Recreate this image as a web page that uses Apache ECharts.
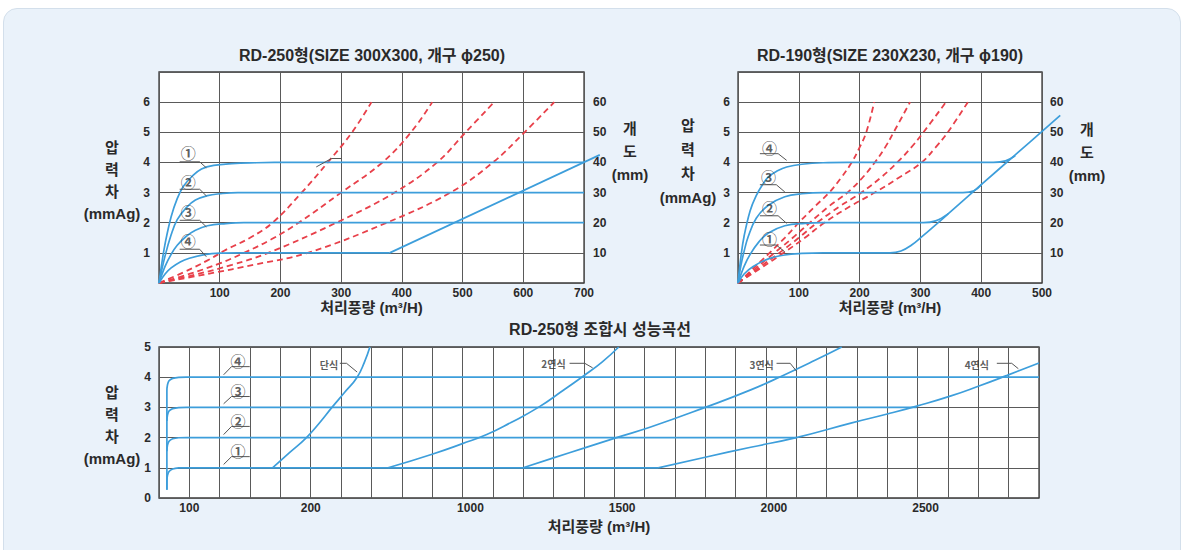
<!DOCTYPE html>
<html><head><meta charset="utf-8">
<script src="https://cdn.jsdelivr.net/npm/echarts@6/dist/echarts.min.js"></script>
<style>
html,body{margin:0;padding:0;background:#fff;width:1184px;height:550px;overflow:hidden}
#panel{position:absolute;left:3px;top:8px;width:1176px;height:560px;background:#eaf2fa;border:1px solid #d3dfeb;border-radius:14px}
#chart{position:absolute;left:0;top:0;width:1184px;height:550px}
</style></head>
<body><div id="panel"></div><div id="chart"></div>
<script>
// ---------- DATA ----------
// Chart A: RD-250 (x: m3/H, y: mmAg)
const aXTickValues = [100,200,300,400,500,600,700];
const aXTickLabels = ['100','200','300','400','500','600','700'];
const aYTickValues = [1,2,3,4,5,6];
const aYTickLabels = ['1','2','3','4','5','6'];
const aRTickValues = [10,20,30,40,50,60];
const aRTickLabels = ['10','20','30','40','50','60'];
const aOpen1 = [[0,0],[5,0.7],[10,1.3],[20,2.2],[30,2.8],[40,3.2],[55,3.55],[70,3.78],[90,3.9],[120,3.96],[160,3.99],[190,4],[700,4]];
const aOpen2 = [[0,0],[10,0.9],[20,1.6],[30,2.1],[45,2.5],[60,2.75],[80,2.9],[100,2.96],[130,3],[700,3]];
const aOpen3 = [[0,0],[10,0.55],[20,0.95],[30,1.25],[45,1.55],[60,1.75],[80,1.9],[110,1.97],[140,2],[700,2]];
const aOpen4 = [[0,0],[10,0.3],[20,0.5],[35,0.7],[50,0.82],[75,0.94],[100,0.99],[130,1],[380,1]];
const aMaxLine = [[380,1],[726,4.25]];
const aDash1 = [[0,0],[40,0.35],[80,0.75],[110,1.1],[150,1.5],[187,2],[235,3],[278,4],[318,5],[350,6]];
const aDash2 = [[0,0],[50,0.3],[100,0.65],[140,1.0],[185,1.45],[230,2],[300,3],[368,4],[415,5],[450,6]];
const aDash3 = [[0,0],[60,0.28],[120,0.6],[180,1.0],[292,2],[388,3],[458,4],[505,5],[552,6]];
const aDash4 = [[0,0],[80,0.3],[160,0.62],[245,1.0],[375,2],[480,3],[550,4],[602,5],[651,6]];
const aMarks = [{t:'①',p:[48,4.32]},{t:'②',p:[48,3.37]},{t:'③',p:[48,2.36]},{t:'④',p:[48,1.40]}];
const aLeaders = [
  [[34,4.02],[67,4.02],[78,3.82]],
  [[34,3.11],[67,3.11],[78,2.89]],
  [[34,2.08],[67,2.08],[78,1.86]],
  [[34,1.12],[67,1.12],[78,0.87]],
  [[259,3.85],[284,4.13],[300,4.13]]
];

// Chart B: RD-190
const bXTickValues = [100,200,300,400,500];
const bXTickLabels = ['100','200','300','400','500'];
const bOpen4 = [[0,0],[5,0.9],[10,1.55],[20,2.4],[30,2.9],[40,3.25],[50,3.52],[65,3.72],[80,3.85],[105,3.94],[140,3.99],[180,4],[420,4],[440,4.05],[456,4.22]];
const bOpen3 = [[0,0],[5,0.6],[10,1.05],[17,1.55],[30,2.15],[50,2.58],[77,2.86],[105,2.96],[140,3],[370,3],[388,3.06],[401,3.28]];
const bOpen2 = [[0,0],[10,0.55],[20,0.95],[35,1.38],[50,1.66],[77,1.9],[110,1.98],[140,2],[305,2],[325,2.06],[346,2.3]];
const bOpen1 = [[0,0],[10,0.3],[25,0.55],[50,0.8],[77,0.93],[105,0.98],[140,1],[250,1],[268,1.06],[285,1.25],[302,1.53],[346,2.3],[401,3.28],[456,4.25],[530,5.56]];
const bDash1 = [[0,0],[26,0.5],[52,1.0],[77,1.5],[100,2.0],[127,2.55],[150,3.0],[170,3.5],[187,4.0],[200,4.5],[211,5.0],[224,6.0]];
const bDash2 = [[0,0],[30,0.5],[60,1.0],[90,1.5],[118,2.0],[150,2.55],[180,3.0],[205,3.5],[225,4.0],[242,4.5],[256,5.0],[283,6.0]];
const bDash3 = [[0,0],[34,0.5],[68,1.0],[100,1.5],[130,2.0],[168,2.55],[203,3.0],[235,3.5],[262,4.0],[285,4.5],[305,5.0],[342,6.0]];
const bDash4 = [[0,0],[38,0.5],[75,1.0],[110,1.5],[142,2.0],[185,2.55],[225,3.0],[265,3.5],[302,4.0],[325,4.5],[345,5.0],[378,6.0]];
const bMarks = [{t:'④',p:[52,4.51]},{t:'③',p:[50,3.52]},{t:'②',p:[52,2.49]},{t:'①',p:[52,1.47]}];
const bLeaders = [
  [[36,4.29],[66,4.29],[80,4.07]],
  [[36,3.26],[63,3.26],[77,3.02]],
  [[36,2.23],[66,2.23],[80,1.98]],
  [[36,1.26],[63,1.26],[77,1.03]]
];

// Chart C: RD-250 combinations
const cXTickValues = [100,500,1000,1500,2000,2500];
const cXTickLabels = ['100','200','1000','1500','2000','2500'];
const cYTickValues = [0,1,2,3,4,5];
const cYTickLabels = ['0','1','2','3','4','5'];
const cOpen1 = [[26,0.27],[26,0.55],[28,0.75],[33,0.88],[45,0.96],[65,0.995],[90,1],[1645,1]];
const cOpen2 = [[26,1.55],[28,1.75],[33,1.88],[45,1.96],[65,1.995],[90,2],[2100,2]];
const cOpen3 = [[26,2.55],[28,2.75],[33,2.88],[45,2.96],[65,2.995],[90,3],[2497,3]];
const cOpen4 = [[26,0.27],[26,3.55],[28,3.75],[33,3.88],[45,3.96],[65,3.995],[90,4],[2900,4]];
const cSingle = [[374,1],[430,1.5],[486,2],[530,2.5],[570,3],[612,3.5],[653,4],[677,4.5],[695,5]];
const cDouble = [[755,1],[900,1.45],[1000,1.8],[1080,2.1],[1160,2.5],[1250,3.0],[1330,3.55],[1400,4.05],[1460,4.5],[1515,5]];
const cTriple = [[1200,1],[1300,1.33],[1400,1.65],[1508,2],[1620,2.35],[1800,3],[1950,3.58],[2055,4.05],[2160,4.55],[2250,5]];
const cQuad = [[1645,1],[1800,1.35],[1950,1.68],[2100,2],[2280,2.48],[2400,2.78],[2500,3.05],[2610,3.38],[2700,3.7],[2795,4.06],[2900,4.47]];
const cMarks = [{t:'④',p:[260,4.55]},{t:'③',p:[260,3.56]},{t:'②',p:[260,2.57]},{t:'①',p:[260,1.57]}];
const cLeaders = [
  [[299,4.35],[239,4.35],[213,4.08]],
  [[299,3.36],[239,3.36],[213,3.12]],
  [[299,2.37],[239,2.37],[213,2.10]],
  [[299,1.37],[239,1.37],[213,1.11]],
  [[596,4.46],[618,4.46],[653,4.17]],
  [[1353,4.46],[1403,4.46],[1429,4.31]],
  [[2035,4.46],[2080,4.46],[2101,4.2]],
  [[2761,4.46],[2810,4.46],[2832,4.28]]
];
const cTexts = [{t:'단식',p:[560,4.42]},{t:'2연식',p:[1300,4.44]},{t:'3연식',p:[1986,4.42]},{t:'4연식',p:[2695,4.42]}];

// ---------- CHART ----------
const FONT = "'Liberation Sans','Noto Sans CJK KR',sans-serif";
const BLUE = '#3d9edb', RED = '#e8404a', GRIDC = '#5a5a5a', TXT = '#2a2a2a';
function fmt(values, labels, shiftFrom){
  return function(v){
    const i = values.indexOf(Math.round(v*1000)/1000);
    if (i < 0) return '';
    return (shiftFrom !== undefined && values[i] >= shiftFrom) ? '{s|' + labels[i] + '}' : labels[i];
  };
}
const lblStyle = {color:TXT, fontWeight:'bold', fontSize:12, fontFamily:FONT};
const split = {show:true, lineStyle:{color:GRIDC, width:1}};
const nameStyle = {color:TXT, fontWeight:'bold', fontSize:15, fontFamily:FONT};

function xAx(grid, max, vals, labs, shiftFrom){
  return {gridIndex:grid, type:'value', min:0, max:max, interval:100,
    axisLine:{show:false}, axisTick:{show:false}, splitLine:split,
    axisLabel:Object.assign({formatter:fmt(vals,labs,shiftFrom), margin:4, interval:0, hideOverlap:false,
      rich:{s:{padding:[0,0,0,16], color:TXT, fontWeight:'bold', fontSize:12, fontFamily:FONT}}}, lblStyle),
    name:'처리풍량 (m³/H)', nameLocation:'middle', nameGap: grid===2 ? 21 : 16, nameTextStyle:nameStyle};
}
function yAx(grid, max, interval, vals, labs, pos, margin, showSplit){
  return {gridIndex:grid, type:'value', min:0, max:max, interval:interval, position:pos,
    axisLine:{show:false}, axisTick:{show:false}, splitLine: showSplit ? split : {show:false},
    axisLabel:Object.assign({formatter:fmt(vals,labs), margin:margin, hideOverlap:false}, lblStyle)};
}
function hiddenAx(grid, max){ return {gridIndex:grid, type:'value', min:0, max:max, show:false}; }
function ln(xi, yi, data, color, opts){
  opts = opts || {};
  return {type:'line', xAxisIndex:xi, yAxisIndex:yi, data:data, symbol:'none', showSymbol:false,
    smooth: opts.smooth === undefined ? 0.4 : opts.smooth, clip:true,
    lineStyle:{color:color, width: opts.width || 1.7, type: opts.dash ? [6,4] : 'solid'},
    silent:true, animation:false, z: opts.z || 3};
}
function marks(xi, yi, arr, size){
  return {type:'scatter', xAxisIndex:xi, yAxisIndex:yi, symbolSize:1, itemStyle:{color:'rgba(0,0,0,0)'},
    data: arr.map(d => ({value:d.p, name:d.t})), silent:true, animation:false, z:6,
    label:{show:true, position:'inside', formatter:'{b}', fontSize:size, fontWeight:'bold', color:'#333', fontFamily:"'Noto Sans CJK KR','Liberation Sans',sans-serif"}};
}
function leaders(xi, yi, arr){
  return arr.map(d => ln(xi, yi, d, '#555', {smooth:false, width:1, z:5}));
}

const series = [];
// A
[aDash1,aDash2,aDash3,aDash4].forEach(d => series.push(ln(0,0,d,RED,{dash:true, width:1.8, z:2})));
[aOpen1,aOpen2,aOpen3,aOpen4].forEach(d => series.push(ln(0,0,d,BLUE)));
series.push(ln(3,5,aMaxLine,BLUE,{smooth:false}));        // drawn on wider hidden grid (same scale) so it may overrun the frame
series.push(marks(0,0,aMarks,15));
leaders(0,0,aLeaders).forEach(s => series.push(s));
// B
[bDash1,bDash2,bDash3,bDash4].forEach(d => series.push(ln(1,2,d,RED,{dash:true, width:1.8, z:2})));
[bOpen4,bOpen3,bOpen2].forEach(d => series.push(ln(1,2,d,BLUE)));
series.push(ln(4,6,bOpen1,BLUE));                          // wider hidden grid, same scale
series.push(marks(1,2,bMarks,15));
leaders(1,2,bLeaders).forEach(s => series.push(s));
// C
[cOpen1,cOpen2,cOpen3,cOpen4].forEach(d => series.push(ln(2,4,d,BLUE,{smooth:0.3})));
[cSingle,cDouble,cTriple,cQuad].forEach(d => series.push(ln(2,4,d,BLUE,{smooth:0.5})));
series.push(marks(2,4,cMarks,15));
series.push(marks(2,4,cTexts,10));
leaders(2,4,cLeaders).forEach(s => series.push(s));

const gridBase = {show:true, backgroundColor:'#fff', borderColor:'#3a3a3a', borderWidth:1.3, containLabel:false, outerBoundsMode:'none'};
const gridHidden = {show:false, containLabel:false, outerBoundsMode:'none'};
function title(text, cx, top, lh, size){
  return {text:text, left:cx, top:top, textAlign:'center', padding:0, itemGap:0,
    textStyle:{color:TXT, fontWeight:'bold', fontSize:size||16, fontFamily:FONT, lineHeight:lh||19}};
}

const option = {
  backgroundColor:'transparent',
  animation:false,
  title:[
    title('RD-250형(SIZE 300X300, 개구 ϕ250)', 372, 46),
    title('RD-190형(SIZE 230X230, 개구 ϕ190)', 890, 46),
    title('RD-250형 조합시 성능곡선', 600, 320),
    title('압\n력\n차\n(mmAg)', 112, 136, 22, 15),
    title('개\n도\n(mm)', 630, 117, 23, 15),
    title('압\n력\n차\n(mmAg)', 688, 113, 24, 15),
    title('개\n도\n(mm)', 1087, 118, 23, 15),
    title('압\n력\n차\n(mmAg)', 112, 381, 22, 15)
  ],
  grid:[
    Object.assign({left:159, top:72, width:425, height:211}, gridBase),
    Object.assign({left:738, top:72, width:304, height:211}, gridBase),
    Object.assign({left:159, top:347, width:880, height:151}, gridBase),
    Object.assign({left:159, top:72, width:425*760/700, height:211}, gridHidden),
    Object.assign({left:738, top:72, width:304*540/500, height:211}, gridHidden)
  ],
  xAxis:[
    xAx(0, 700, aXTickValues, aXTickLabels),
    xAx(1, 500, bXTickValues, bXTickLabels),
    xAx(2, 2900, cXTickValues, cXTickLabels, 1000),
    hiddenAx(3, 760),
    hiddenAx(4, 540)
  ],
  yAxis:[
    yAx(0, 7, 1, aYTickValues, aYTickLabels, 'left', 9, true),
    yAx(0, 70, 10, aRTickValues, aRTickLabels, 'right', 9, false),
    yAx(1, 7, 1, aYTickValues, aYTickLabels, 'left', 8, true),
    yAx(1, 70, 10, aRTickValues, aRTickLabels, 'right', 8, false),
    yAx(2, 5, 1, cYTickValues, cYTickLabels, 'left', 8, true),
    hiddenAx(3, 7),
    hiddenAx(4, 7)
  ],
  series:series
};
const chart = echarts.init(document.getElementById('chart'), null, {renderer:'svg'});
chart.setOption(option);
</script>
</body></html>
